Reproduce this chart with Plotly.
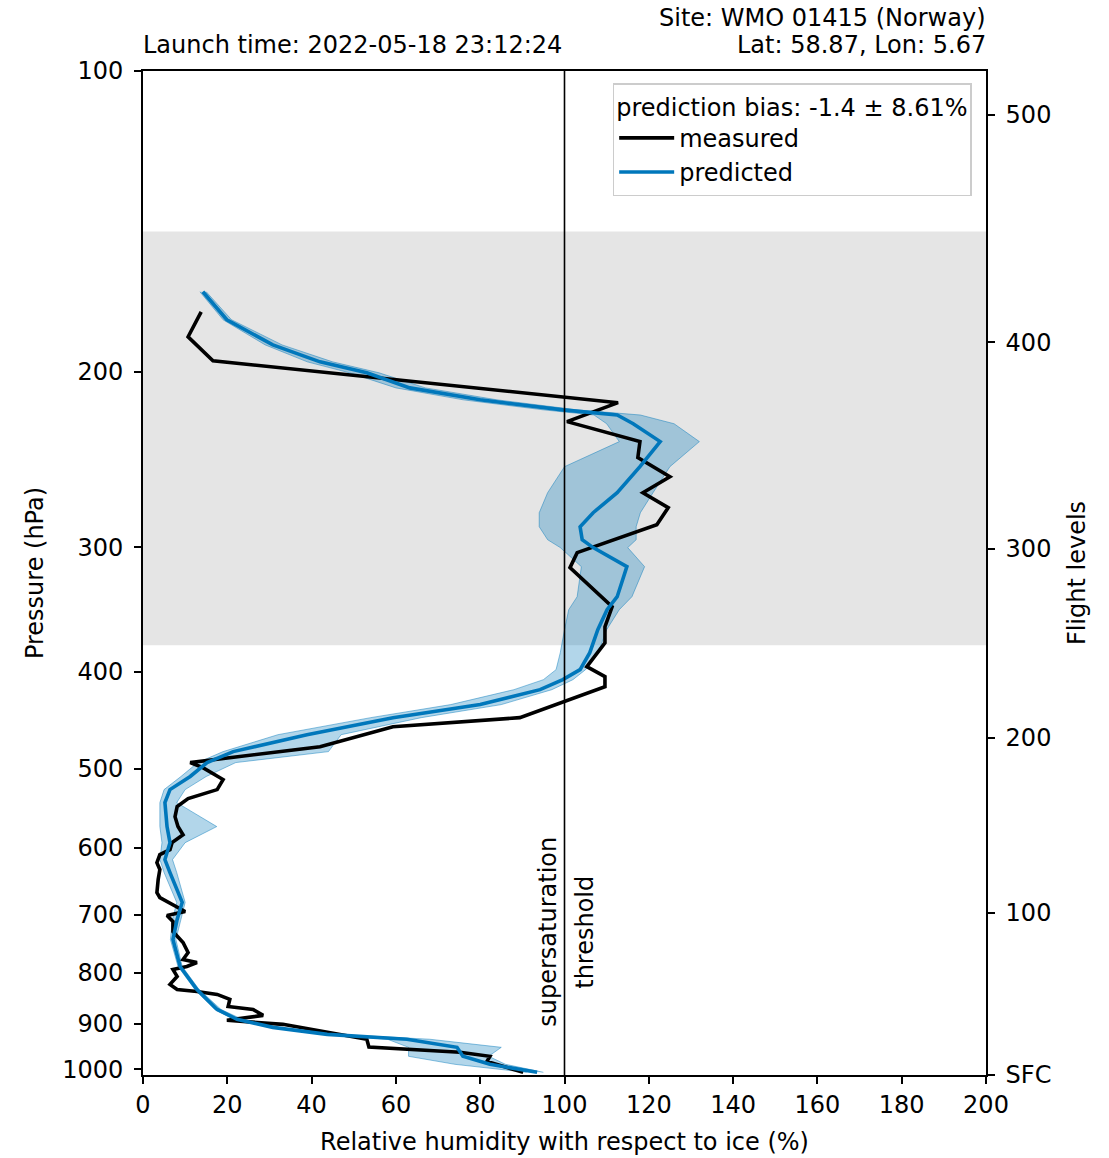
import numpy as np
import plotly.graph_objects as go

# ---------------- data ----------------
# measured profile (pressure hPa, RH over ice %)
meas_p = [174.3, 184.6, 195.1, 214.9, 224.5, 235.1, 243.9, 254.9, 264.5, 273.8,
          284.8, 303.7, 314.4, 340.1, 344.1, 360.3, 373.9, 395.1, 404.3, 413.7,
          444.4, 453.8, 475.2, 492.9, 498.7, 512.6, 524.6, 535.5, 545.6, 558.4,
          571.3, 582.1, 592.9, 602.5, 609.5, 620.8, 630.8, 645.5, 665.2, 672.9,
          687.0, 695.0, 701.4, 711.2, 727.7, 746.4, 763.8, 776.2, 781.6, 788.8,
          794.3, 807.2, 822.2, 831.8, 835.6, 841.4, 851.2, 865.0, 871.0, 883.0,
          893.0, 901.5, 933.0, 950.0, 961.6, 970.5, 982.0, 1007.0]
meas_rh = [13.8, 10.7, 16.6, 112.7, 100.6, 117.9, 117.4, 125.0, 118.6, 124.6,
           121.9, 103.0, 101.3, 110.1, 111.3, 109.6, 109.6, 105.3, 109.6, 109.6,
           89.4, 59.3, 42.0, 11.2, 14.2, 19.0, 17.6, 10.7, 8.1, 7.6,
           8.3, 9.5, 6.9, 6.4, 4.0, 3.3, 4.0, 3.6, 3.3, 4.0,
           8.1, 10.0, 5.7, 7.1, 7.1, 9.5, 10.7, 9.5, 12.8, 10.4,
           7.1, 8.1, 6.4, 8.1, 12.8, 17.6, 20.6, 20.2, 26.1, 28.5,
           19.9, 33.2, 53.1, 53.6, 75.2, 82.3, 81.6, 90.2]

# predicted profile (mean) and ensemble spread
pred_p = [166.4, 177.5, 188.1, 195.6, 200.6, 207.7, 213.5, 218.5, 221.1, 225.6,
          235.1, 249.1, 264.5, 277.0, 286.1, 294.8, 300.2, 313.7, 336.2, 346.4,
          362.8, 382.5, 397.8, 407.1, 416.6, 431.2, 444.4, 462.2, 480.6, 492.9,
          509.0, 524.6, 540.6, 571.3, 592.9, 616.5, 635.2, 680.5, 707.8, 741.3,
          788.8, 831.8, 871.0, 891.0, 907.8, 922.6, 933.0, 950.6, 970.5, 988.6,
          1007.0]
pred_rh = [14.2, 19.9, 30.8, 42.0, 53.1, 63.3, 80.0, 99.6, 112.5, 116.3,
           122.7, 117.9, 112.5, 106.8, 103.7, 104.2, 106.8, 114.8, 112.5, 110.1,
           107.9, 106.0, 103.7, 99.6, 94.2, 80.0, 59.3, 38.9, 21.4, 15.2,
           11.2, 6.4, 5.2, 5.7, 6.4, 5.2, 6.4, 9.3, 8.1, 7.1,
           8.8, 12.8, 17.6, 22.3, 30.8, 43.7, 62.6, 74.5, 75.9, 82.3,
           93.5]
pred_lo = [13.5, 19.0, 29.0, 39.0, 49.0, 60.0, 76.0, 95.0, 107.0, 110.0,
           113.0, 100.0, 96.0, 94.0, 94.0, 96.0, 99.0, 104.0, 103.0, 101.0,
           100.0, 99.0, 98.0, 95.0, 88.0, 73.0, 54.0, 32.0, 19.0, 13.0,
           9.0, 5.0, 4.0, 4.0, 4.5, 4.0, 5.0, 8.0, 7.0, 6.5,
           8.3, 12.3, 17.0, 21.5, 30.0, 43.0, 58.0, 63.0, 63.0, 74.0,
           91.0]
pred_hi = [15.0, 21.0, 33.0, 45.0, 56.0, 67.0, 84.0, 103.0, 118.0, 126.0,
           132.0, 125.0, 121.0, 118.0, 117.0, 117.0, 115.0, 119.0, 116.0, 113.0,
           110.0, 108.0, 105.0, 102.0, 97.0, 85.0, 66.0, 47.0, 44.0, 22.0,
           15.0, 10.0, 8.0, 17.5, 10.0, 7.0, 8.0, 10.0, 9.0, 7.8,
           9.3, 13.3, 18.5, 23.5, 32.0, 46.0, 68.0, 85.0, 82.0, 86.0,
           95.0]

pressure_ticks = [100, 200, 300, 400, 500, 600, 700, 800, 900, 1000]
x_range = [0, 200]
x_ticks = list(range(0, 201, 20))
flight_levels = [0, 100, 200, 300, 400, 500]
flight_labels = ["SFC", "100", "200", "300", "400", "500"]
band_fl = (250, 450)          # shaded flight level band
threshold = 100               # supersaturation threshold (%)

launch_text = "Launch time: 2022-05-18 23:12:24"
site_text = "Site: WMO 01415 (Norway)"
latlon_text = "Lat: 58.87, Lon: 5.67"
legend_title = "prediction bias: -1.4 \u00b1 8.61%"


def fl_to_hpa(fl):
    h = np.asarray(fl, dtype=float) * 100 * 0.3048
    return 1013.25 * (1 - 0.0065 * h / 288.15) ** 5.2559


P_SFC = float(fl_to_hpa(0))
yrange = [np.log10(P_SFC), 2.0]
fl_p = [float(v) for v in fl_to_hpa(flight_levels)]
band_p = [float(fl_to_hpa(band_fl[1])), float(fl_to_hpa(band_fl[0]))]

BLUE = "#0077BB"
FONT = "DejaVu Sans"
FS = 24

fig = go.Figure()

# shaded flight-level band (behind everything)
fig.add_trace(go.Scatter(
    x=[x_range[0], x_range[1], x_range[1], x_range[0], x_range[0]],
    y=[band_p[0], band_p[0], band_p[1], band_p[1], band_p[0]],
    mode="lines", fill="toself", fillcolor="#e5e5e5",
    line=dict(width=0), showlegend=False, hoverinfo="skip"))

# ensemble spread
fig.add_trace(go.Scatter(
    x=pred_lo + pred_hi[::-1], y=pred_p + pred_p[::-1],
    mode="lines", fill="toself", fillcolor="rgba(0,119,187,0.30)",
    line=dict(width=0), showlegend=False, hoverinfo="skip"))
for arr in (pred_lo, pred_hi):
    fig.add_trace(go.Scatter(
        x=arr, y=pred_p, mode="lines",
        line=dict(color="rgba(0,119,187,0.5)", width=0.9),
        showlegend=False, hoverinfo="skip"))

fig.add_trace(go.Scatter(x=meas_rh, y=meas_p, mode="lines", name="measured",
                         line=dict(color="black", width=3.6)))
fig.add_trace(go.Scatter(x=pred_rh, y=pred_p, mode="lines", name="predicted",
                         line=dict(color=BLUE, width=3.6)))
# dummy trace to activate the flight-level axis
fig.add_trace(go.Scatter(x=[None], y=[None], yaxis="y2", showlegend=False,
                         hoverinfo="skip"))

axis_common = dict(showline=True, linecolor="black", linewidth=1.6,
                   ticks="outside", ticklen=7, tickwidth=1.6, tickcolor="black",
                   showgrid=False, zeroline=False,
                   tickfont=dict(family=FONT, size=FS, color="black"))

fig.update_layout(
    width=1109, height=1158,
    margin=dict(l=143, r=123, t=71, b=83, autoexpand=False),
    paper_bgcolor="white", plot_bgcolor="white",
    font=dict(family=FONT, size=FS, color="black"),
    xaxis=dict(range=x_range, tickvals=x_ticks, mirror=True,
               title=dict(text="Relative humidity with respect to ice (%)",
                          standoff=16, font=dict(family=FONT, size=FS)),
               **axis_common),
    yaxis=dict(type="log", range=yrange, tickvals=pressure_ticks,
               ticktext=[str(v) for v in pressure_ticks], mirror=True,
               ticklabelstandoff=6,
               title=dict(text="Pressure (hPa)", standoff=12,
                          font=dict(family=FONT, size=FS)),
               **axis_common),
    yaxis2=dict(type="log", range=yrange, overlaying="y", side="right",
                tickvals=fl_p, ticktext=flight_labels, ticklabelstandoff=6,
                title=dict(text="Flight levels", standoff=18,
                           font=dict(family=FONT, size=FS)),
                **axis_common),
    legend=dict(x=0.983, y=0.988, xanchor="right", yanchor="top",
                bgcolor="rgba(255,255,255,0.85)", bordercolor="#cccccc",
                borderwidth=1.5, itemwidth=55,
                title=dict(text=legend_title, font=dict(family=FONT, size=FS)),
                font=dict(family=FONT, size=FS)),
    showlegend=True,
)

# threshold line
fig.add_shape(type="line", xref="x", x0=threshold, x1=threshold,
              yref="paper", y0=0, y1=1, line=dict(color="black", width=1.6),
              layer="above")

ann_y = float(np.log10(729))
fig.add_annotation(x=threshold, y=ann_y, xref="x", yref="y", text="supersaturation",
                   textangle=-90, showarrow=False, xshift=-16,
                   font=dict(family=FONT, size=FS))
fig.add_annotation(x=threshold, y=ann_y, xref="x", yref="y", text="threshold",
                   textangle=-90, showarrow=False, xshift=21,
                   font=dict(family=FONT, size=FS))

fig.add_annotation(x=0, y=1, xref="paper", yref="paper", text=launch_text,
                   xanchor="left", yanchor="bottom", showarrow=False, yshift=10,
                   xshift=-2, font=dict(family=FONT, size=FS))
fig.add_annotation(x=1, y=1, xref="paper", yref="paper", text=latlon_text,
                   xanchor="right", yanchor="bottom", showarrow=False, yshift=10,
                   xshift=2, font=dict(family=FONT, size=FS))
fig.add_annotation(x=1, y=1, xref="paper", yref="paper", text=site_text,
                   xanchor="right", yanchor="bottom", showarrow=False, yshift=37,
                   xshift=2, font=dict(family=FONT, size=FS))

fig.write_html("out.html", config={"displayModeBar": False},
               post_script="document.body.style.margin='0';"
                           "document.body.style.padding='0';")
